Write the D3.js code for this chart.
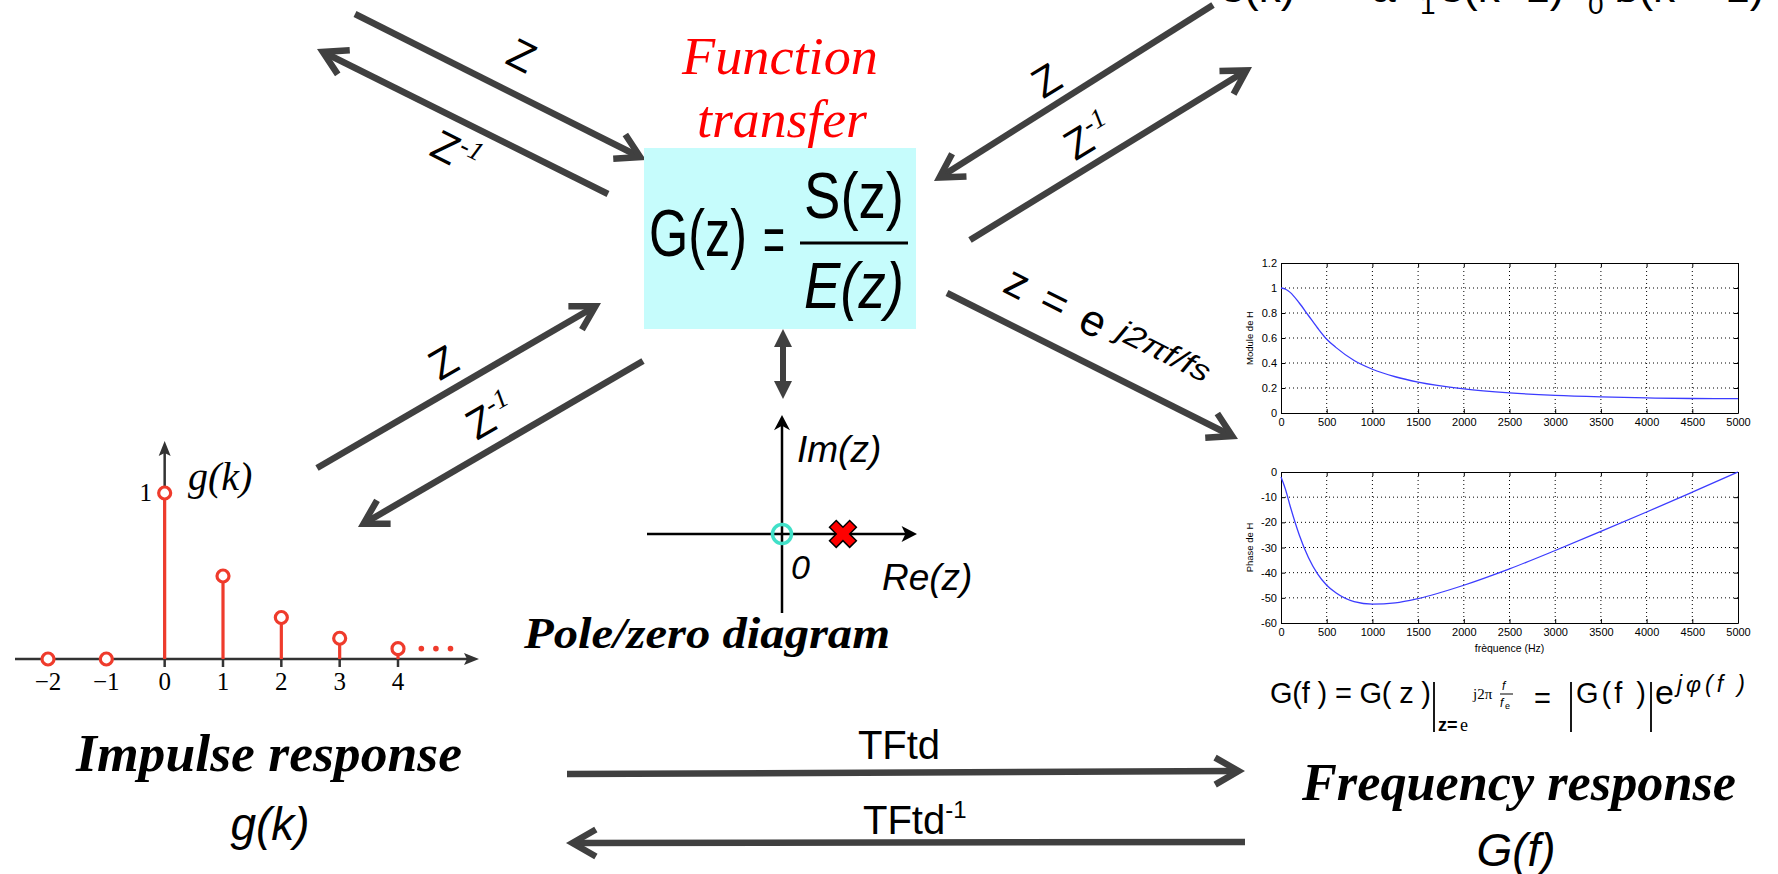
<!DOCTYPE html>
<html>
<head>
<meta charset="utf-8">
<script src="https://cdn.jsdelivr.net/npm/d3@7"></script>
<style>
  body { margin: 0; background: #fff; }
  svg { display: block; }
</style>
</head>
<body>
<div id="chart"></div>
<script>
// ---- data ----
const impulseK = [-2, -1, 0, 1, 2, 3, 4];
const impulseG = [0, 0, 1, 0.5, 0.25, 0.125, 0.0625];

const freqHz  = [0, 50, 100, 200, 300, 400, 500, 600, 800, 1000, 1250, 1500, 2000, 2500, 3000, 3500, 4000, 4500, 5000];
const moduleH = [1.0, 0.99, 0.965, 0.88, 0.78, 0.68, 0.59, 0.525, 0.42, 0.35, 0.29, 0.247, 0.193, 0.161, 0.141, 0.129, 0.121, 0.116, 0.115];
const phaseH  = [-2, -7, -13.5, -25, -34, -40.5, -45, -48, -51.5, -52.5, -52, -50.3, -45, -38.5, -31.2, -23.6, -15.9, -8, 0];

const freqTicks   = [0, 500, 1000, 1500, 2000, 2500, 3000, 3500, 4000, 4500, 5000];
const moduleTicks = [0, 0.2, 0.4, 0.6, 0.8, 1, 1.2];
const phaseTicks  = [-60, -50, -40, -30, -20, -10, 0];

const zerosRe = [0];
const polesRe = [0.79];

const W = 1778, H = 874;
const ink = "#404040";
const sans = "'Liberation Sans', Arial, sans-serif";
const serif = "'Liberation Serif', 'Times New Roman', serif";

const svg = d3.select("#chart").append("svg")
    .attr("width", W)
    .attr("height", H)
    .attr("font-family", sans);

svg.append("rect").attr("width", W).attr("height", H).attr("fill", "#fff");

// chevron arrow, tip at (x2,y2)
function arrow(g, x1, y1, x2, y2) {
  const sw = 6.5, head = 27, spread = 30 * Math.PI / 180;
  const a = Math.atan2(y2 - y1, x2 - x1);
  const back = (sw / 2) / Math.sin(spread);
  const tx = x2 - back * Math.cos(a), ty = y2 - back * Math.sin(a);
  const p1 = [tx - head * Math.cos(a - spread), ty - head * Math.sin(a - spread)];
  const p2 = [tx - head * Math.cos(a + spread), ty - head * Math.sin(a + spread)];
  g.append("line")
      .attr("x1", x1).attr("y1", y1)
      .attr("x2", tx - 3 * Math.cos(a)).attr("y2", ty - 3 * Math.sin(a))
      .attr("stroke", ink).attr("stroke-width", sw);
  g.append("path")
      .attr("d", d3.line()([p1, [tx, ty], p2]))
      .attr("fill", "none").attr("stroke", ink).attr("stroke-width", sw)
      .attr("stroke-linejoin", "miter").attr("stroke-linecap", "butt");
  return a * 180 / Math.PI;
}

// rotated "Z" / "Z-1" labels
function zLabel(cx, cy, ang, inv) {
  const t = svg.append("text")
      .attr("transform", `translate(${cx},${cy}) rotate(${ang})`)
      .attr("text-anchor", "middle")
      .attr("y", 15)
      .attr("font-size", 42);
  t.append("tspan").text("Z");
  if (inv) {
    t.append("tspan")
        .attr("font-family", serif).attr("font-style", "italic")
        .attr("font-size", 27).attr("dy", -16).text("-1");
  }
}

// ---- partial text cut by the top edge ----
const topTxt = svg.append("g").attr("font-size", 44).attr("fill", "#000");
topTxt.append("text").attr("x", 1222).attr("y", 2).text("s(k) = \u2212a");
topTxt.append("text").attr("x", 1420).attr("y", 14).attr("font-size", 28).text("1");
topTxt.append("text").attr("x", 1441).attr("y", 2).text("s(k\u22121) + b");
topTxt.append("text").attr("x", 1588).attr("y", 14).attr("font-size", 28).text("0");
topTxt.append("text").attr("x", 1614).attr("y", 2).text("e(k \u2212 1)");

// ---- connectors ----
const arrows = svg.append("g");
const aUL = arrow(arrows, 355, 14, 646, 160);
arrow(arrows, 608, 194, 317, 49);
const aUR = arrow(arrows, 970, 240, 1252, 67);
arrow(arrows, 1213, 5, 934, 181);
const aLL = arrow(arrows, 317, 468, 601, 303);
arrow(arrows, 643, 361, 358, 527);
const aZE = arrow(arrows, 947, 293, 1238, 439);
arrow(arrows, 567, 774, 1245, 771);
arrow(arrows, 1245, 842, 566, 843);

zLabel(522, 55, aUL, false);
zLabel(456, 152, aUL, true);
zLabel(1046, 80, aUR, false);
zLabel(1088, 136, aUR, true);
zLabel(443, 362, aLL, false);
zLabel(490, 416, aLL, true);

// z = e^{j2πf/fs}
const ze = svg.append("text")
    .attr("transform", `translate(1001,291) rotate(${aZE})`)
    .attr("font-size", 44);
ze.append("tspan").attr("x", 0).text("z");
ze.append("tspan").attr("x", 40).text("=");
ze.append("tspan").attr("x", 84).text("e");
ze.append("tspan").attr("x", 123).attr("dy", -9)
    .attr("font-style", "italic").attr("font-size", 30)
    .attr("textLength", 100).attr("lengthAdjust", "spacingAndGlyphs")
    .text("j2\u03c0f/fs");

// ---- transfer function box ----
svg.append("text").attr("x", 682).attr("y", 74)
    .attr("font-family", serif).attr("font-style", "italic").attr("font-size", 52)
    .attr("fill", "#ff0000")
    .attr("textLength", 196).attr("lengthAdjust", "spacingAndGlyphs")
    .text("Function");
svg.append("text").attr("x", 697).attr("y", 137)
    .attr("font-family", serif).attr("font-style", "italic").attr("font-size", 52)
    .attr("fill", "#ff0000")
    .attr("textLength", 170).attr("lengthAdjust", "spacingAndGlyphs")
    .text("transfer");

svg.append("rect").attr("x", 644).attr("y", 148).attr("width", 272).attr("height", 181)
    .attr("fill", "#c6fcfc");

const gz = svg.append("g").attr("fill", "#000");
gz.append("text").attr("x", 649).attr("y", 256).attr("font-size", 66)
    .attr("textLength", 98).attr("lengthAdjust", "spacingAndGlyphs").text("G(z)");
gz.append("text").attr("x", 763).attr("y", 262).attr("font-size", 66)
    .attr("textLength", 22).attr("lengthAdjust", "spacingAndGlyphs").text("=");
gz.append("text").attr("x", 804).attr("y", 218).attr("font-size", 64)
    .attr("textLength", 100).attr("lengthAdjust", "spacingAndGlyphs").text("S(z)");
gz.append("line").attr("x1", 800).attr("x2", 908).attr("y1", 243).attr("y2", 243)
    .attr("stroke", "#000").attr("stroke-width", 3);
gz.append("text").attr("x", 804).attr("y", 308).attr("font-size", 64).attr("font-style", "italic")
    .attr("textLength", 100).attr("lengthAdjust", "spacingAndGlyphs").text("E(z)");

// double arrow below the box
const dbl = svg.append("g").attr("fill", ink);
dbl.append("line").attr("x1", 783).attr("x2", 783).attr("y1", 340).attr("y2", 388)
    .attr("stroke", ink).attr("stroke-width", 6);
dbl.append("path").attr("d", "M783,329 L792,347 L774,347 Z");
dbl.append("path").attr("d", "M783,399 L792,381 L774,381 Z");

// ---- pole / zero diagram ----
const re = d3.scaleLinear().domain([-1.75, 1.75]).range([647, 917]);
const im = d3.scaleLinear().domain([-1.03, 1.55]).range([613, 415]);
const pz = svg.append("g");
pz.append("line").attr("x1", re(-1.75)).attr("x2", re(1.7)).attr("y1", im(0)).attr("y2", im(0))
    .attr("stroke", "#000").attr("stroke-width", 2.5);
pz.append("line").attr("x1", re(0)).attr("x2", re(0)).attr("y1", im(-1.03)).attr("y2", im(1.5))
    .attr("stroke", "#000").attr("stroke-width", 2.5);
pz.append("path")
    .attr("d", `M${re(1.75)},${im(0)} L${re(1.55)},${im(0) - 8} L${re(1.6)},${im(0)} L${re(1.55)},${im(0) + 8} Z`);
pz.append("path")
    .attr("d", `M${re(0)},${im(1.55)} L${re(0) + 8},${im(1.35)} L${re(0)},${im(1.41)} L${re(0) - 8},${im(1.35)} Z`);

pz.selectAll("circle.zero").data(zerosRe).join("circle")
    .attr("class", "zero")
    .attr("cx", d => re(d)).attr("cy", im(0)).attr("r", 9.5)
    .attr("fill", "none").attr("stroke", "#40e0c8").attr("stroke-width", 3.5);
pz.selectAll("path.pole").data(polesRe).join("path")
    .attr("class", "pole")
    .attr("d", d3.symbol(d3.symbolCross, 450))
    .attr("transform", d => `translate(${re(d)},${im(0)}) rotate(45)`)
    .attr("fill", "#ff0000").attr("stroke", "#000").attr("stroke-width", 1.5);

pz.append("text").attr("x", 797).attr("y", 462).attr("font-size", 37).attr("font-style", "italic").text("Im(z)");
pz.append("text").attr("x", 791).attr("y", 579).attr("font-size", 34).attr("font-style", "italic").text("0");
pz.append("text").attr("x", 882).attr("y", 590).attr("font-size", 37).attr("font-style", "italic").text("Re(z)");
svg.append("text").attr("x", 524).attr("y", 648)
    .attr("font-family", serif).attr("font-style", "italic").attr("font-weight", "bold").attr("font-size", 44)
    .attr("textLength", 366).attr("lengthAdjust", "spacingAndGlyphs")
    .text("Pole/zero diagram");

// ---- impulse response ----
const kx = d3.scaleLinear().domain([-2, 4]).range([48, 398]);
const gy = d3.scaleLinear().domain([0, 1]).range([659, 493]);
const stemRed = "#ef3b2c";
const imp = svg.append("g");
imp.append("line").attr("x1", 15).attr("x2", 468).attr("y1", gy(0)).attr("y2", gy(0))
    .attr("stroke", "#333").attr("stroke-width", 2.5);
imp.append("path").attr("d", `M479,${gy(0)} L464,${gy(0) - 6} L467,${gy(0)} L464,${gy(0) + 6} Z`).attr("fill", "#333");
imp.append("line").attr("x1", kx(0)).attr("x2", kx(0)).attr("y1", gy(0)).attr("y2", 452)
    .attr("stroke", "#333").attr("stroke-width", 2.5);
imp.append("path").attr("d", `M${kx(0)},441 L${kx(0) + 6},456 L${kx(0)},453 L${kx(0) - 6},456 Z`).attr("fill", "#333");

imp.selectAll("line.tick").data(impulseK.filter(k => k >= 0)).join("line")
    .attr("class", "tick")
    .attr("x1", d => kx(d)).attr("x2", d => kx(d)).attr("y1", gy(0)).attr("y2", gy(0) + 8)
    .attr("stroke", "#333").attr("stroke-width", 2.5);
imp.selectAll("text.tl").data(impulseK).join("text")
    .attr("class", "tl")
    .attr("x", d => kx(d)).attr("y", 690)
    .attr("text-anchor", "middle").attr("font-family", serif).attr("font-size", 25)
    .text(d => d < 0 ? "\u2212" + (-d) : d);

const stems = impulseK.map((k, i) => ({k, g: impulseG[i]}));
imp.selectAll("line.stem").data(stems.filter(d => d.g > 0)).join("line")
    .attr("class", "stem")
    .attr("x1", d => kx(d.k)).attr("x2", d => kx(d.k))
    .attr("y1", gy(0)).attr("y2", d => gy(d.g))
    .attr("stroke", stemRed).attr("stroke-width", 3.2);
imp.selectAll("circle.head").data(stems).join("circle")
    .attr("class", "head")
    .attr("cx", d => kx(d.k)).attr("cy", d => gy(d.g)).attr("r", 6)
    .attr("fill", "#fff").attr("stroke", stemRed).attr("stroke-width", 3.2);
imp.selectAll("circle.dot").data([4.4, 4.65, 4.9]).join("circle")
    .attr("class", "dot")
    .attr("cx", d => kx(d)).attr("cy", gy(impulseG[6])).attr("r", 2.8).attr("fill", stemRed);

imp.append("text").attr("x", 152).attr("y", 501).attr("text-anchor", "end")
    .attr("font-family", serif).attr("font-size", 25).text("1");
imp.append("text").attr("x", 188).attr("y", 490)
    .attr("font-family", serif).attr("font-style", "italic").attr("font-size", 40).text("g(k)");

svg.append("text").attr("x", 76).attr("y", 771)
    .attr("font-family", serif).attr("font-style", "italic").attr("font-weight", "bold").attr("font-size", 52)
    .attr("textLength", 386).attr("lengthAdjust", "spacingAndGlyphs")
    .text("Impulse response");
svg.append("text").attr("x", 270).attr("y", 840).attr("text-anchor", "middle")
    .attr("font-style", "italic").attr("font-size", 46).text("g(k)");

// ---- TFtd labels ----
svg.append("text").attr("x", 899).attr("y", 759).attr("text-anchor", "middle")
    .attr("font-size", 40).text("TFtd");
const inv = svg.append("text").attr("x", 863).attr("y", 834).attr("font-size", 40);
inv.append("tspan").text("TFtd");
inv.append("tspan").attr("font-size", 24).attr("dy", -16).text("-1");

// ---- frequency response plots (Matlab style) ----
const fx = d3.scaleLinear().domain([0, 5000]).range([1281, 1738]);
const my = d3.scaleLinear().domain([0, 1.2]).range([413, 263]);
const py = d3.scaleLinear().domain([-60, 0]).range([623, 472]);

function matlabPlot(y, yTicks, values, yLabel, xLabel) {
  const g = svg.append("g");
  const [x0, x1] = fx.range();
  const [yb, yt] = y.range();

  g.append("g").selectAll("line").data(freqTicks.slice(1, -1)).join("line")
      .attr("x1", d => fx(d)).attr("x2", d => fx(d)).attr("y1", yt).attr("y2", yb)
      .attr("stroke", "#000").attr("stroke-width", 1).attr("stroke-dasharray", "1,3");
  g.append("g").selectAll("line").data(yTicks.slice(1, -1)).join("line")
      .attr("x1", x0).attr("x2", x1).attr("y1", d => y(d)).attr("y2", d => y(d))
      .attr("stroke", "#000").attr("stroke-width", 1).attr("stroke-dasharray", "1,3");

  const axStyle = a => a.attr("font-family", sans).attr("font-size", 11)
      .call(s => s.selectAll("line").attr("stroke", "#000"))
      .call(s => s.select(".domain").attr("stroke", "#000"));

  g.append("g").attr("transform", `translate(0,${yb})`)
      .call(d3.axisBottom(fx).tickValues(freqTicks).tickSizeInner(-4).tickSizeOuter(0).tickPadding(5).tickFormat(d3.format("d")))
      .call(axStyle);
  g.append("g").attr("transform", `translate(0,${yt})`)
      .call(d3.axisTop(fx).tickValues(freqTicks).tickSizeInner(-4).tickSizeOuter(0).tickFormat(""))
      .call(axStyle);
  g.append("g").attr("transform", `translate(${x0},0)`)
      .call(d3.axisLeft(y).tickValues(yTicks).tickSizeInner(-4).tickSizeOuter(0).tickPadding(4).tickFormat(d => String(d)))
      .call(axStyle);
  g.append("g").attr("transform", `translate(${x1},0)`)
      .call(d3.axisRight(y).tickValues(yTicks).tickSizeInner(-4).tickSizeOuter(0).tickFormat(""))
      .call(axStyle);

  g.append("path")
      .datum(freqHz.map((f, i) => [f, values[i]]))
      .attr("fill", "none").attr("stroke", "#3c3cff").attr("stroke-width", 1.3)
      .attr("d", d3.line().x(d => fx(d[0])).y(d => y(d[1])).curve(d3.curveMonotoneX));

  g.append("text")
      .attr("transform", `translate(1253,${(yb + yt) / 2}) rotate(-90)`)
      .attr("text-anchor", "middle").attr("font-size", 9.5).text(yLabel);
  if (xLabel) {
    g.append("text").attr("x", (x0 + x1) / 2).attr("y", yb + 29)
        .attr("text-anchor", "middle").attr("font-size", 10.5).text(xLabel);
  }
}

matlabPlot(my, moduleTicks, moduleH, "Module de H", null);
matlabPlot(py, phaseTicks, phaseH, "Phase de H", "fr\u00e8quence (Hz)");

// ---- G(f) formula ----
const fm = svg.append("g").attr("fill", "#000");
fm.append("text").attr("x", 1270).attr("y", 703).attr("font-size", 29)
    .attr("textLength", 161).attr("lengthAdjust", "spacing").text("G(f ) = G( z )");
fm.append("line").attr("x1", 1434).attr("x2", 1434).attr("y1", 682).attr("y2", 732)
    .attr("stroke", "#000").attr("stroke-width", 1.8);
fm.append("text").attr("x", 1438).attr("y", 731).attr("font-size", 18).attr("font-weight", "bold").text("z=");
fm.append("text").attr("x", 1460).attr("y", 731).attr("font-size", 18).attr("font-family", serif).text("e");
fm.append("text").attr("x", 1473).attr("y", 699).attr("font-size", 15).attr("font-family", serif).text("j2\u03c0");
fm.append("text").attr("x", 1502).attr("y", 690).attr("font-size", 12).attr("font-style", "italic").text("f");
fm.append("line").attr("x1", 1500).attr("x2", 1513).attr("y1", 694).attr("y2", 694)
    .attr("stroke", "#000").attr("stroke-width", 1);
fm.append("text").attr("x", 1500).attr("y", 707).attr("font-size", 12).attr("font-style", "italic").text("f");
fm.append("text").attr("x", 1505).attr("y", 709).attr("font-size", 9).text("e");
fm.append("text").attr("x", 1534).attr("y", 708).attr("font-size", 29).text("=");
fm.append("line").attr("x1", 1571).attr("x2", 1571).attr("y1", 682).attr("y2", 732)
    .attr("stroke", "#000").attr("stroke-width", 1.8);
fm.append("text").attr("x", 1576).attr("y", 703).attr("font-size", 29)
    .attr("textLength", 70).attr("lengthAdjust", "spacing").text("G(f )");
fm.append("line").attr("x1", 1651).attr("x2", 1651).attr("y1", 682).attr("y2", 732)
    .attr("stroke", "#000").attr("stroke-width", 1.8);
fm.append("text").attr("x", 1655).attr("y", 704).attr("font-size", 34).text("e");
fm.append("text").attr("x", 1677).attr("y", 692).attr("font-size", 23).attr("font-style", "italic")
    .attr("textLength", 68).attr("lengthAdjust", "spacing").text("j\u03c6(f )");

// ---- frequency response caption ----
svg.append("text").attr("x", 1302).attr("y", 800)
    .attr("font-family", serif).attr("font-style", "italic").attr("font-weight", "bold").attr("font-size", 52)
    .attr("textLength", 434).attr("lengthAdjust", "spacingAndGlyphs")
    .text("Frequency response");
svg.append("text").attr("x", 1516).attr("y", 866).attr("text-anchor", "middle")
    .attr("font-style", "italic").attr("font-size", 46).text("G(f)");
</script>
</body>
</html>
